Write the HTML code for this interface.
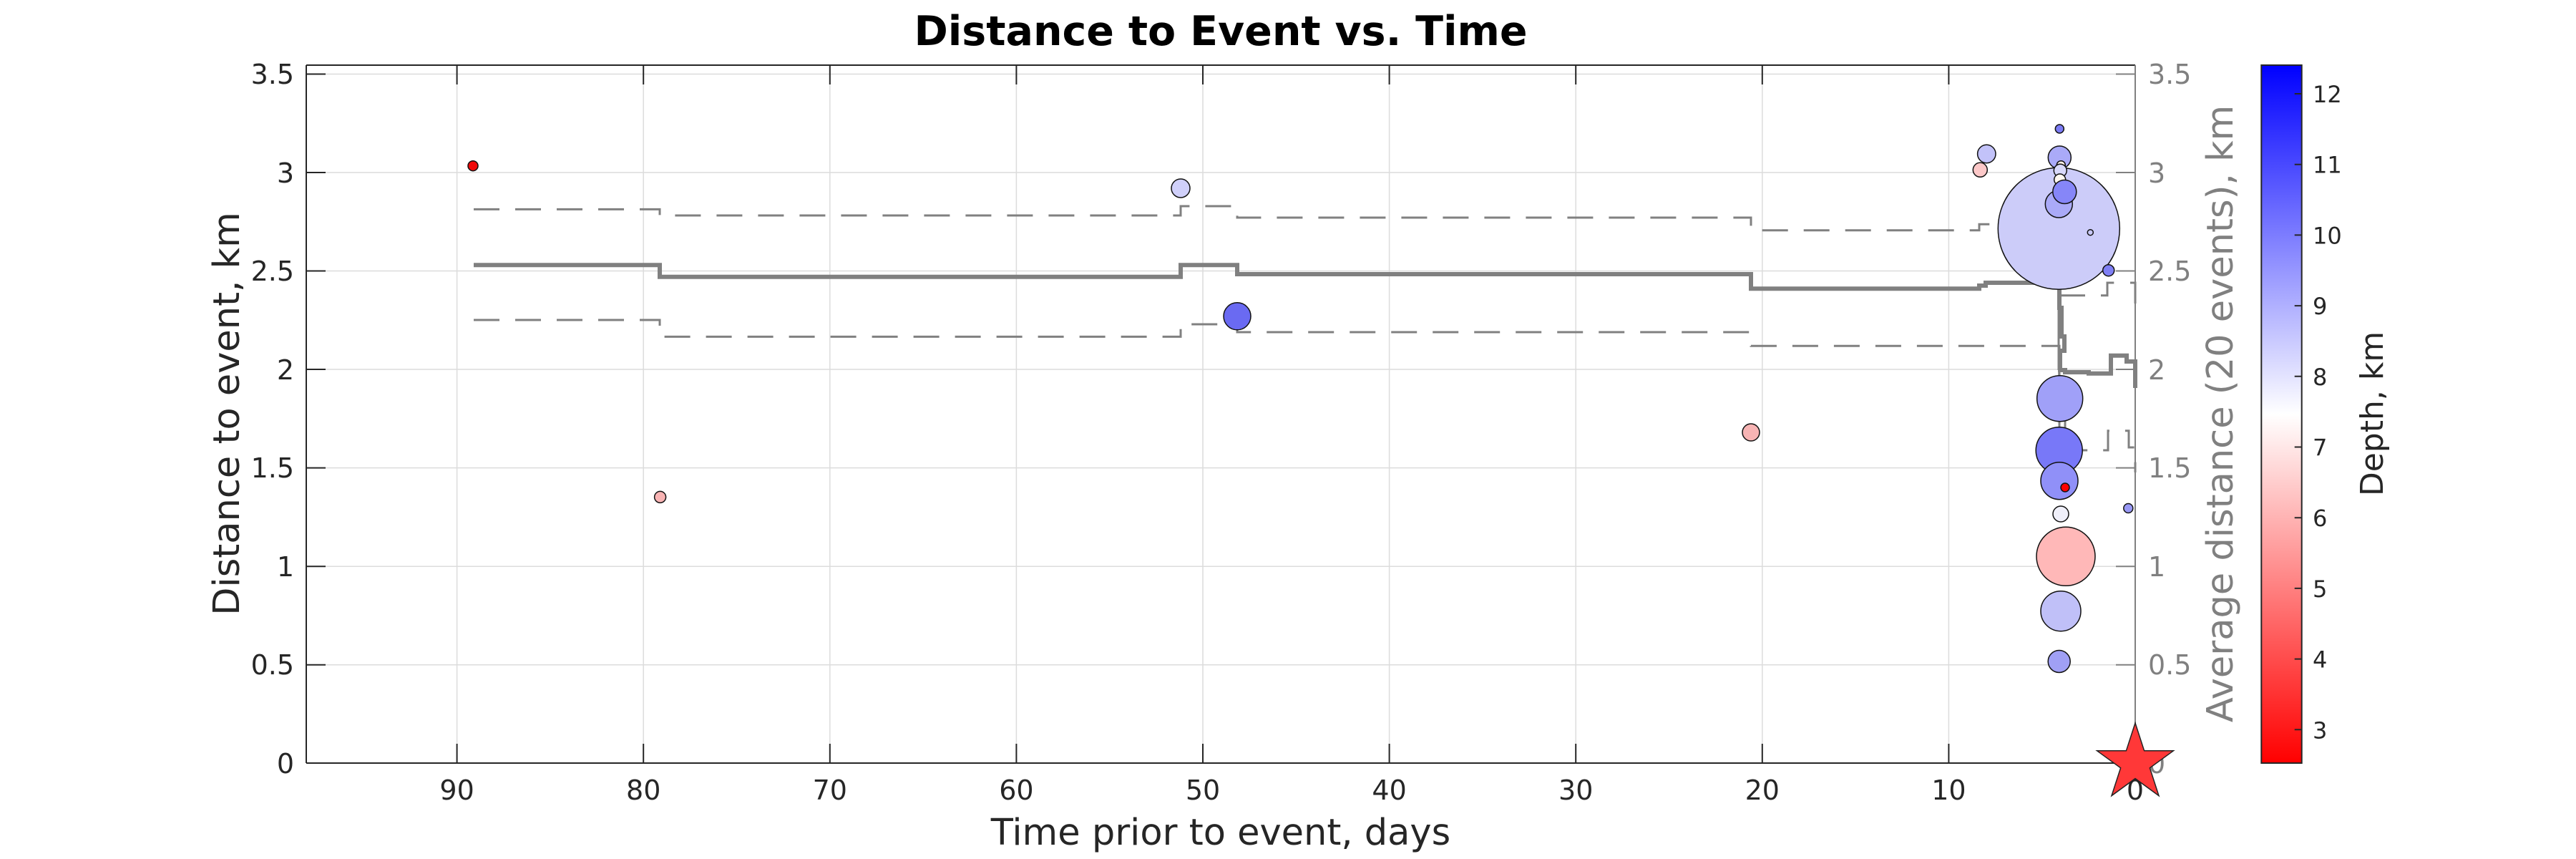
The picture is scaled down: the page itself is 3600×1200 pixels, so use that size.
<!DOCTYPE html>
<html><head><meta charset="utf-8"><style>
html,body{margin:0;padding:0;background:#fff;}
svg{display:block;font-family:"DejaVu Sans","Liberation Sans",sans-serif;}
</style></head><body>
<svg width="3600" height="1200" viewBox="0 0 3600 1200" xmlns="http://www.w3.org/2000/svg">
<defs>
<linearGradient id="cb" x1="0" y1="0" x2="0" y2="1">
<stop offset="0" stop-color="#0000ff"/>
<stop offset="0.5" stop-color="#ffffff"/>
<stop offset="1" stop-color="#ff0000"/>
</linearGradient>
</defs>
<rect width="3600" height="1200" fill="#fff"/>
<text x="1706" y="63" font-size="57" font-weight="bold" text-anchor="middle" fill="#000">Distance to Event vs. Time</text>
<g stroke="#dcdcdc" stroke-width="1.5">
<line x1="638.6" y1="91" x2="638.6" y2="1066"/>
<line x1="899.2" y1="91" x2="899.2" y2="1066"/>
<line x1="1159.8" y1="91" x2="1159.8" y2="1066"/>
<line x1="1420.4" y1="91" x2="1420.4" y2="1066"/>
<line x1="1681" y1="91" x2="1681" y2="1066"/>
<line x1="1941.6" y1="91" x2="1941.6" y2="1066"/>
<line x1="2202.2" y1="91" x2="2202.2" y2="1066"/>
<line x1="2462.8" y1="91" x2="2462.8" y2="1066"/>
<line x1="2723.4" y1="91" x2="2723.4" y2="1066"/>
<line x1="428" y1="103.5" x2="2984" y2="103.5"/>
<line x1="428" y1="241" x2="2984" y2="241"/>
<line x1="428" y1="378.5" x2="2984" y2="378.5"/>
<line x1="428" y1="516" x2="2984" y2="516"/>
<line x1="428" y1="653.6" x2="2984" y2="653.6"/>
<line x1="428" y1="791.2" x2="2984" y2="791.2"/>
<line x1="428" y1="928.8" x2="2984" y2="928.8"/>
</g>
<g fill="none" stroke="#808080" stroke-width="3" stroke-dasharray="36 22">
<path d="M662 292.4 H922 V301 H1650 V288 H1729 V304 H2447 V321.7 H2766 V313.3 H2878 V340 M2878 412.7 H2945 V395 H2960 M2977 395 H2984 V425"/>
<path d="M662 447 H922 V470.4 H1650 V453 H1729 V464 H2447 V483.3 H2878 V629 H2946 V601.7 H2975 V625 H2984 V660"/>
</g>
<g fill="none" stroke="#808080" stroke-width="3">
<path d="M2877 337 V517 M2886 360 V390 M2878 552 V597 M2886 580 V600 M2877.7 500 V530"/>
</g>
<path d="M662 370.3 H922 V386.8 H1650 V370.3 H1729 V383 H2447 V403.3 H2766 V399 H2775 V395 H2878 V430 H2881 V470 H2885 V490 H2879 V517 H2886 V520 H2919 V521.7 H2950 V496.7 H2972 V505 H2984 V542" fill="none" stroke="#808080" stroke-width="6"/>
<g stroke="#111" stroke-width="1.5">
<circle cx="661" cy="231.7" r="7" fill="#f00a0a"/>
<circle cx="922.6" cy="694.4" r="8" fill="#f9b4b4"/>
<circle cx="1650" cy="263" r="13" fill="#d0d0fa"/>
<circle cx="1729" cy="441.8" r="19" fill="#6a6af2"/>
<circle cx="2447" cy="604" r="12" fill="#f7b4b4"/>
<circle cx="2877.3" cy="319.3" r="85" fill="#ccccf9"/>
<circle cx="2776.3" cy="215" r="12.7" fill="#c2c2f9"/>
<circle cx="2767.3" cy="237.3" r="10" fill="#fcc8c8"/>
<circle cx="2878.3" cy="180" r="6" fill="#7c7cf5"/>
<circle cx="2878.3" cy="220" r="16" fill="#aaaaf8"/>
<circle cx="2880.3" cy="230.7" r="6" fill="#fff0e6"/>
<circle cx="2879.3" cy="238.3" r="9" fill="#d8d8fa"/>
<circle cx="2878.7" cy="251" r="8" fill="#fff8f0"/>
<circle cx="2877.3" cy="285" r="19" fill="#aaaaf8"/>
<circle cx="2885.3" cy="268" r="16.5" fill="#8686f8"/>
<circle cx="2921.3" cy="324.7" r="4" fill="#c8c8f8"/>
<circle cx="2946.7" cy="377.7" r="8" fill="#8080f5"/>
<circle cx="2878.7" cy="556.7" r="32" fill="#a0a0f8"/>
<circle cx="2882.7" cy="604.3" r="5.5" fill="#d0d0f8"/>
<circle cx="2877.7" cy="629.3" r="32.5" fill="#7878f8"/>
<circle cx="2878" cy="671.7" r="26" fill="#9090f8"/>
<circle cx="2886" cy="681" r="6" fill="#ff0000"/>
<circle cx="2880" cy="718" r="11" fill="#f0f0fa"/>
<circle cx="2887" cy="777.3" r="41" fill="#ffb8b8"/>
<circle cx="2974.3" cy="710" r="6.5" fill="#9898f5"/>
<circle cx="2880" cy="853.7" r="28" fill="#c0c0f8"/>
<circle cx="2877.7" cy="924" r="15.5" fill="#a0a0f5"/>
</g>
<g stroke="#262626" stroke-width="2" fill="none">
<line x1="428" y1="91" x2="2984" y2="91"/>
<line x1="428" y1="1066" x2="2984" y2="1066"/>
<line x1="428" y1="91" x2="428" y2="1066"/>
</g>
<line x1="2984" y1="91" x2="2984" y2="1066" stroke="#808080" stroke-width="2"/>
<g stroke="#262626" stroke-width="2">
<path d="M638.6 1066v-27M899.2 1066v-27M1159.8 1066v-27M1420.4 1066v-27M1681 1066v-27M1941.6 1066v-27M2202.2 1066v-27M2462.8 1066v-27M2723.4 1066v-27"/>
<path d="M638.6 91v27M899.2 91v27M1159.8 91v27M1420.4 91v27M1681 91v27M1941.6 91v27M2202.2 91v27M2462.8 91v27M2723.4 91v27"/>
<path d="M428 103.5h27M428 241h27M428 378.5h27M428 516h27M428 653.6h27M428 791.2h27M428 928.8h27M428 1066h27"/>
</g>
<g stroke="#808080" stroke-width="2">
<path d="M2984 103.5h-27M2984 241h-27M2984 378.5h-27M2984 516h-27M2984 653.6h-27M2984 791.2h-27M2984 928.8h-27M2984 1066h-27"/>
</g>
<g font-size="38" fill="#262626" text-anchor="middle">
<text x="638.6" y="1117">90</text>
<text x="899.2" y="1117">80</text>
<text x="1159.8" y="1117">70</text>
<text x="1420.4" y="1117">60</text>
<text x="1681" y="1117">50</text>
<text x="1941.6" y="1117">40</text>
<text x="2202.2" y="1117">30</text>
<text x="2462.8" y="1117">20</text>
<text x="2723.4" y="1117">10</text>
<text x="2984" y="1117">0</text>
</g>
<g font-size="38" fill="#262626" text-anchor="end">
<text x="411" y="117">3.5</text>
<text x="411" y="255">3</text>
<text x="411" y="392">2.5</text>
<text x="411" y="530">2</text>
<text x="411" y="667">1.5</text>
<text x="411" y="805">1</text>
<text x="411" y="942">0.5</text>
<text x="411" y="1080">0</text>
</g>
<g font-size="38" fill="#808080">
<text x="3002" y="117">3.5</text>
<text x="3002" y="255">3</text>
<text x="3002" y="392">2.5</text>
<text x="3002" y="530">2</text>
<text x="3002" y="667">1.5</text>
<text x="3002" y="805">1</text>
<text x="3002" y="942">0.5</text>
<text x="3002" y="1080">0</text>
</g>
<polygon points="2984,1010 2996.6,1048.8 3037.4,1048.8 3004.4,1072.8 3017,1111.6 2984,1087.6 2951,1111.6 2963.6,1072.8 2930.6,1048.8 2971.4,1048.8" fill="#ff3838" stroke="#222" stroke-width="1.5"/>
<text x="1706" y="1180" font-size="51" fill="#262626" text-anchor="middle">Time prior to event, days</text>
<text transform="translate(334,578) rotate(-90)" font-size="51" fill="#262626" text-anchor="middle">Distance to event, km</text>
<text transform="translate(3120,578) rotate(-90)" font-size="51" fill="#808080" text-anchor="middle">Average distance (20 events), km</text>
<rect x="3160.3" y="91" width="56.4" height="975" fill="url(#cb)" stroke="#262626" stroke-width="2"/>
<g stroke="#262626" stroke-width="2">
<path d="M3216.7 131h-10M3216.7 229.7h-10M3216.7 328.4h-10M3216.7 427.1h-10M3216.7 525.8h-10M3216.7 624.5h-10M3216.7 723.2h-10M3216.7 821.9h-10M3216.7 920.6h-10M3216.7 1019.3h-10"/>
</g>
<g font-size="32" fill="#262626">
<text x="3232" y="143">12</text>
<text x="3232" y="241.7">11</text>
<text x="3232" y="340.4">10</text>
<text x="3232" y="439.1">9</text>
<text x="3232" y="537.8">8</text>
<text x="3232" y="636.5">7</text>
<text x="3232" y="735.2">6</text>
<text x="3232" y="833.9">5</text>
<text x="3232" y="932.6">4</text>
<text x="3232" y="1031.3">3</text>
</g>
<text transform="translate(3330,578) rotate(-90)" font-size="44" fill="#262626" text-anchor="middle">Depth, km</text>
</svg>
</body></html>
